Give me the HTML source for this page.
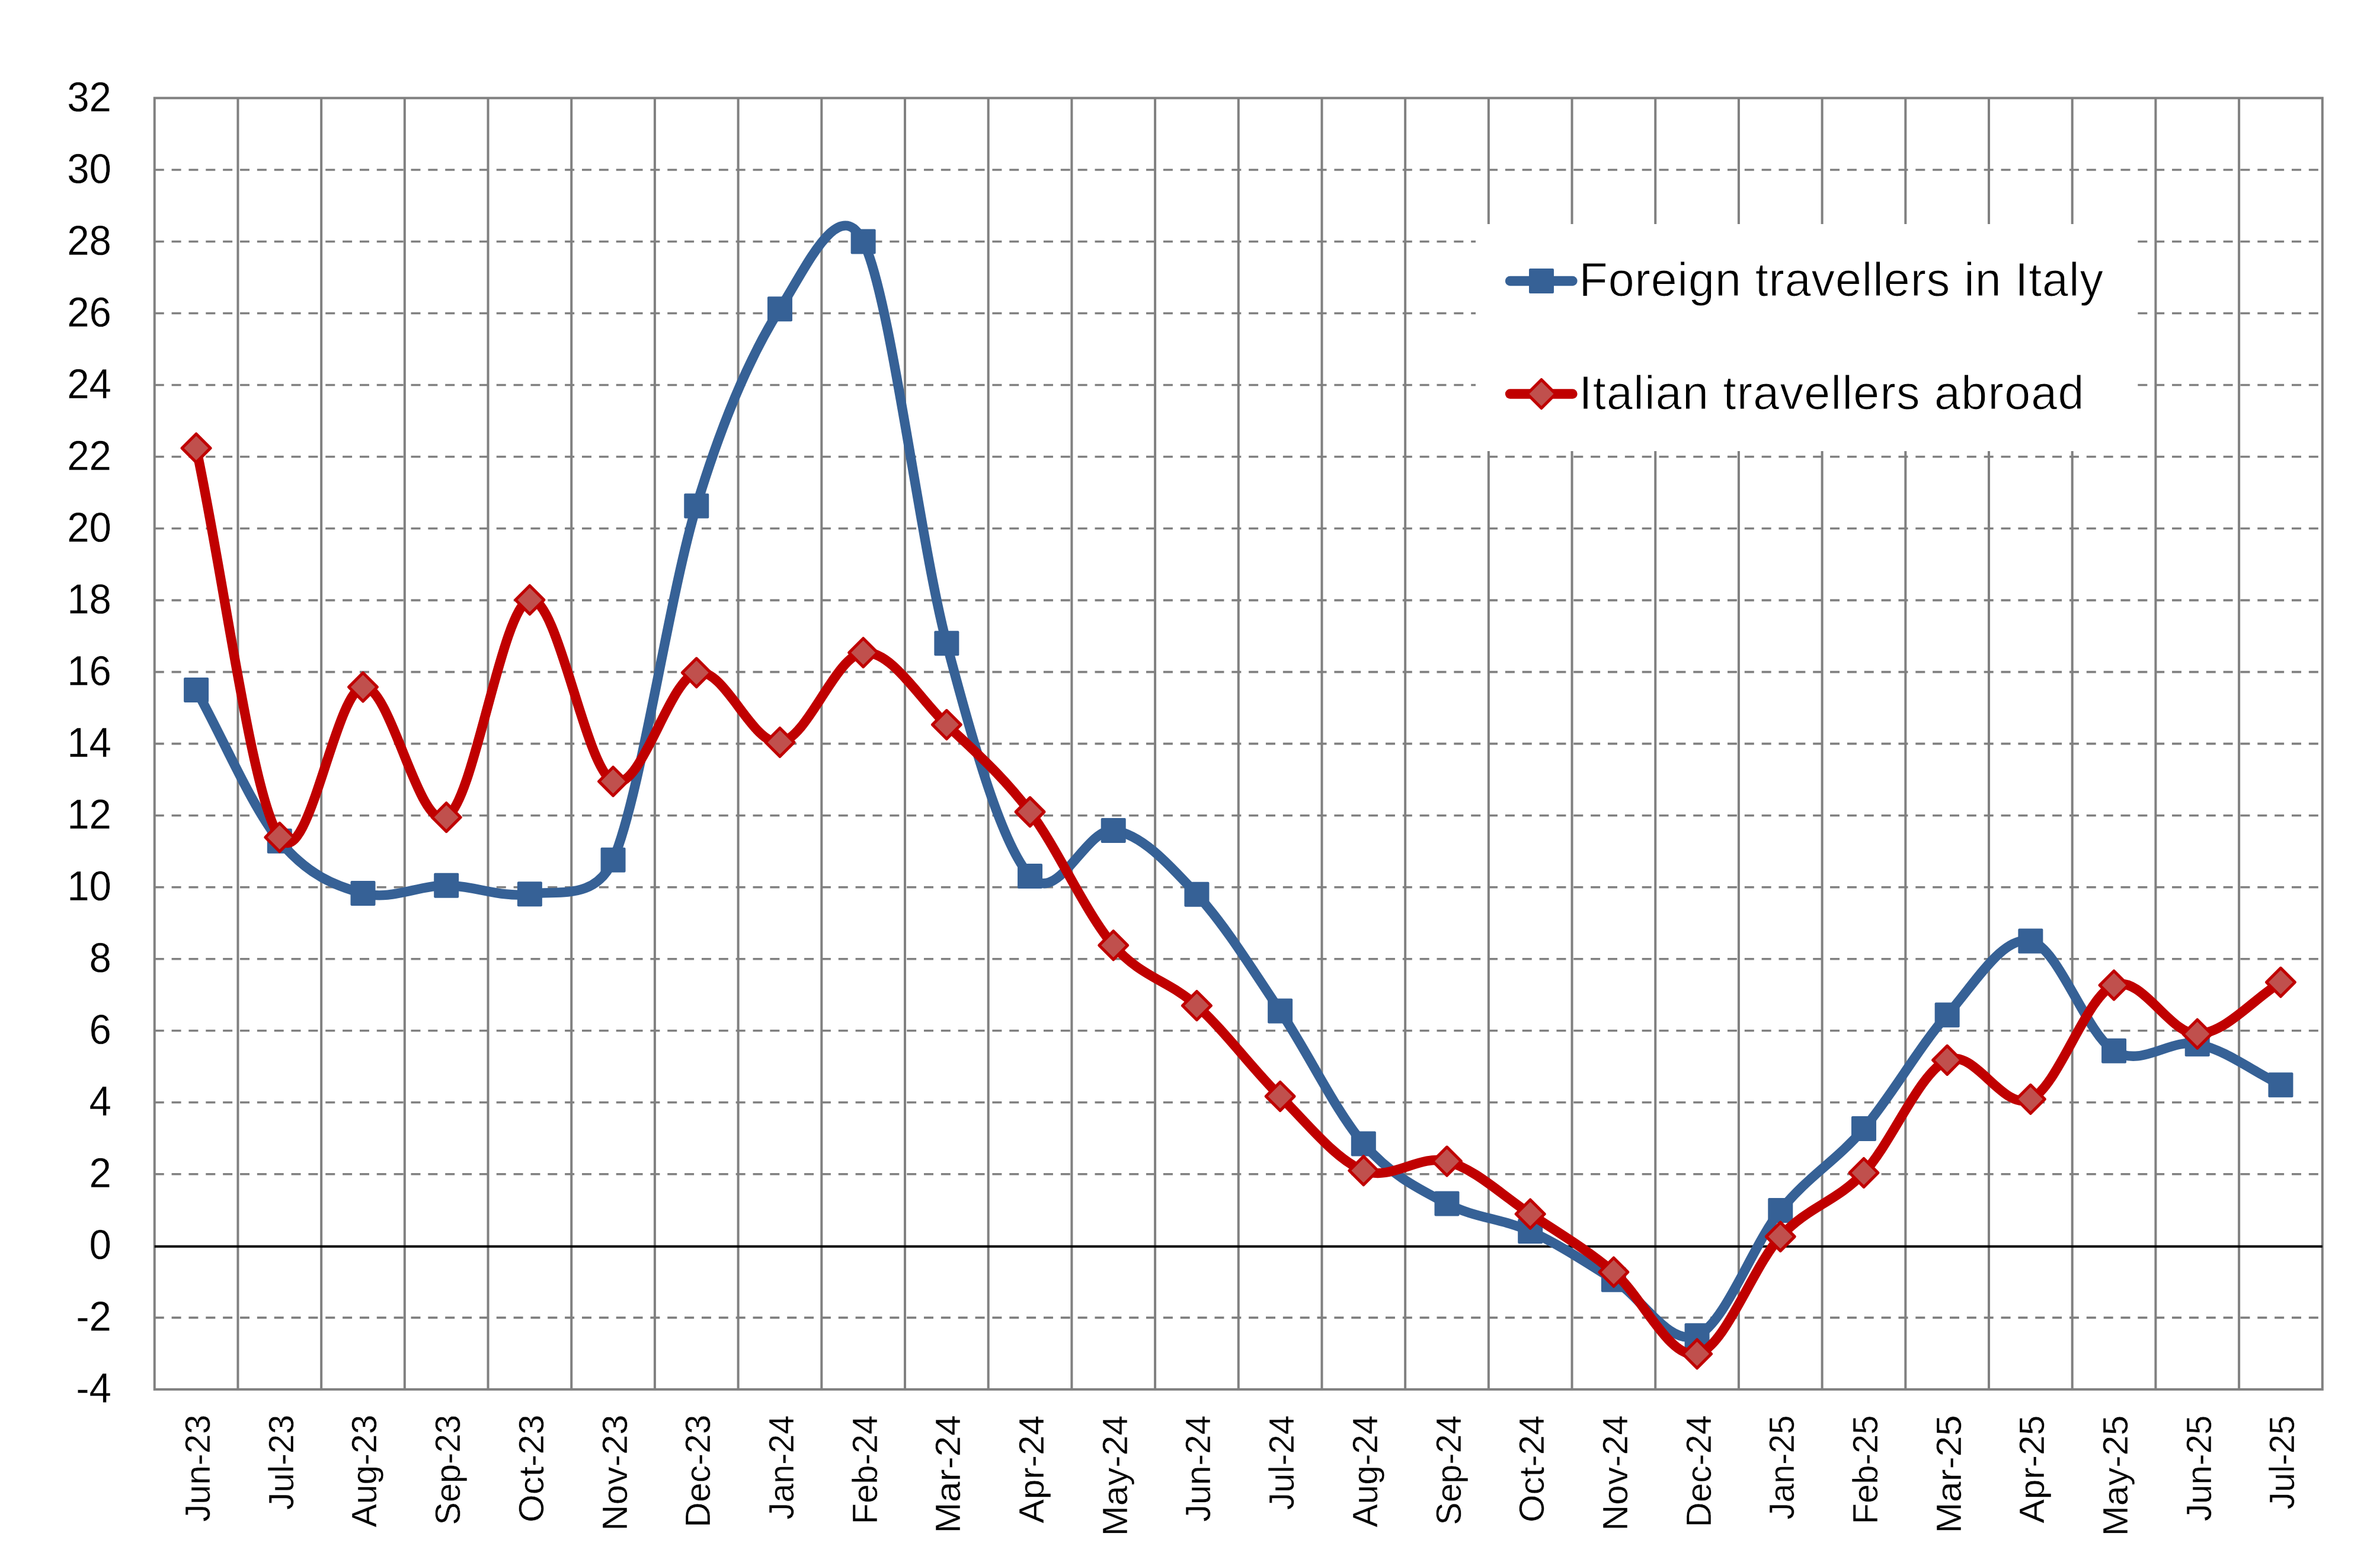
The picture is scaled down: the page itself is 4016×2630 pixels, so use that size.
<!DOCTYPE html>
<html><head><meta charset="utf-8"><style>
html,body{margin:0;padding:0;background:#fff;}
svg{display:block;}
text{font-family:"Liberation Sans",sans-serif;fill:#000;}
</style></head><body>
<svg width="4016" height="2630" viewBox="0 0 4016 2630">
<rect x="0" y="0" width="4016" height="2630" fill="#fff"/>

<line x1="260.75" y1="2222.87" x2="3918.80" y2="2222.87" stroke="#808080" stroke-width="3.6" stroke-dasharray="16 12.85"/>
<line x1="260.75" y1="1980.82" x2="3918.80" y2="1980.82" stroke="#808080" stroke-width="3.6" stroke-dasharray="16 12.85"/>
<line x1="260.75" y1="1859.79" x2="3918.80" y2="1859.79" stroke="#808080" stroke-width="3.6" stroke-dasharray="16 12.85"/>
<line x1="260.75" y1="1738.76" x2="3918.80" y2="1738.76" stroke="#808080" stroke-width="3.6" stroke-dasharray="16 12.85"/>
<line x1="260.75" y1="1617.73" x2="3918.80" y2="1617.73" stroke="#808080" stroke-width="3.6" stroke-dasharray="16 12.85"/>
<line x1="260.75" y1="1496.71" x2="3918.80" y2="1496.71" stroke="#808080" stroke-width="3.6" stroke-dasharray="16 12.85"/>
<line x1="260.75" y1="1375.68" x2="3918.80" y2="1375.68" stroke="#808080" stroke-width="3.6" stroke-dasharray="16 12.85"/>
<line x1="260.75" y1="1254.65" x2="3918.80" y2="1254.65" stroke="#808080" stroke-width="3.6" stroke-dasharray="16 12.85"/>
<line x1="260.75" y1="1133.62" x2="3918.80" y2="1133.62" stroke="#808080" stroke-width="3.6" stroke-dasharray="16 12.85"/>
<line x1="260.75" y1="1012.59" x2="3918.80" y2="1012.59" stroke="#808080" stroke-width="3.6" stroke-dasharray="16 12.85"/>
<line x1="260.75" y1="891.57" x2="3918.80" y2="891.57" stroke="#808080" stroke-width="3.6" stroke-dasharray="16 12.85"/>
<line x1="260.75" y1="770.54" x2="3918.80" y2="770.54" stroke="#808080" stroke-width="3.6" stroke-dasharray="16 12.85"/>
<line x1="260.75" y1="649.51" x2="3918.80" y2="649.51" stroke="#808080" stroke-width="3.6" stroke-dasharray="16 12.85"/>
<line x1="260.75" y1="528.48" x2="3918.80" y2="528.48" stroke="#808080" stroke-width="3.6" stroke-dasharray="16 12.85"/>
<line x1="260.75" y1="407.46" x2="3918.80" y2="407.46" stroke="#808080" stroke-width="3.6" stroke-dasharray="16 12.85"/>
<line x1="260.75" y1="286.43" x2="3918.80" y2="286.43" stroke="#808080" stroke-width="3.6" stroke-dasharray="16 12.85"/>
<line x1="401.44" y1="165.40" x2="401.44" y2="2343.90" stroke="#808080" stroke-width="4"/>
<line x1="542.14" y1="165.40" x2="542.14" y2="2343.90" stroke="#808080" stroke-width="4"/>
<line x1="682.83" y1="165.40" x2="682.83" y2="2343.90" stroke="#808080" stroke-width="4"/>
<line x1="823.53" y1="165.40" x2="823.53" y2="2343.90" stroke="#808080" stroke-width="4"/>
<line x1="964.22" y1="165.40" x2="964.22" y2="2343.90" stroke="#808080" stroke-width="4"/>
<line x1="1104.92" y1="165.40" x2="1104.92" y2="2343.90" stroke="#808080" stroke-width="4"/>
<line x1="1245.61" y1="165.40" x2="1245.61" y2="2343.90" stroke="#808080" stroke-width="4"/>
<line x1="1386.30" y1="165.40" x2="1386.30" y2="2343.90" stroke="#808080" stroke-width="4"/>
<line x1="1527.00" y1="165.40" x2="1527.00" y2="2343.90" stroke="#808080" stroke-width="4"/>
<line x1="1667.69" y1="165.40" x2="1667.69" y2="2343.90" stroke="#808080" stroke-width="4"/>
<line x1="1808.39" y1="165.40" x2="1808.39" y2="2343.90" stroke="#808080" stroke-width="4"/>
<line x1="1949.08" y1="165.40" x2="1949.08" y2="2343.90" stroke="#808080" stroke-width="4"/>
<line x1="2089.78" y1="165.40" x2="2089.78" y2="2343.90" stroke="#808080" stroke-width="4"/>
<line x1="2230.47" y1="165.40" x2="2230.47" y2="2343.90" stroke="#808080" stroke-width="4"/>
<line x1="2371.16" y1="165.40" x2="2371.16" y2="2343.90" stroke="#808080" stroke-width="4"/>
<line x1="2511.86" y1="165.40" x2="2511.86" y2="2343.90" stroke="#808080" stroke-width="4"/>
<line x1="2652.55" y1="165.40" x2="2652.55" y2="2343.90" stroke="#808080" stroke-width="4"/>
<line x1="2793.25" y1="165.40" x2="2793.25" y2="2343.90" stroke="#808080" stroke-width="4"/>
<line x1="2933.94" y1="165.40" x2="2933.94" y2="2343.90" stroke="#808080" stroke-width="4"/>
<line x1="3074.63" y1="165.40" x2="3074.63" y2="2343.90" stroke="#808080" stroke-width="4"/>
<line x1="3215.33" y1="165.40" x2="3215.33" y2="2343.90" stroke="#808080" stroke-width="4"/>
<line x1="3356.02" y1="165.40" x2="3356.02" y2="2343.90" stroke="#808080" stroke-width="4"/>
<line x1="3496.72" y1="165.40" x2="3496.72" y2="2343.90" stroke="#808080" stroke-width="4"/>
<line x1="3637.41" y1="165.40" x2="3637.41" y2="2343.90" stroke="#808080" stroke-width="4"/>
<line x1="3778.11" y1="165.40" x2="3778.11" y2="2343.90" stroke="#808080" stroke-width="4"/>
<rect x="260.75" y="165.40" width="3658.05" height="2178.50" fill="none" stroke="#808080" stroke-width="4"/>
<line x1="260.75" y1="2102.64" x2="3918.80" y2="2102.64" stroke="#000" stroke-width="4"/>
<rect x="2490" y="378" width="1114" height="383" fill="#fff"/>
<path d="M331.10,1163.88 C378.00,1248.80 424.89,1361.46 471.79,1418.64 C518.69,1475.83 565.59,1494.49 612.49,1506.99 C659.38,1519.50 706.28,1493.48 753.18,1493.68 C800.08,1493.88 846.98,1515.36 893.87,1508.20 C940.77,1501.04 1004.56,1520.53 1034.57,1450.72 C1081.47,1341.59 1128.36,1008.36 1175.26,853.44 C1222.16,698.53 1269.06,595.55 1315.96,521.22 C1362.85,446.89 1416.26,326.50 1456.65,407.46 C1503.55,501.45 1550.45,906.80 1597.35,1085.21 C1644.24,1263.63 1691.14,1425.30 1738.04,1477.95 C1784.94,1530.59 1831.84,1395.95 1878.73,1401.09 C1925.63,1406.24 1972.53,1458.08 2019.43,1508.81 C2066.33,1559.54 2113.22,1635.38 2160.12,1705.48 C2207.02,1775.57 2253.92,1875.22 2300.82,1929.38 C2347.71,1983.54 2394.61,2005.83 2441.51,2030.44 C2488.41,2055.05 2535.31,2055.65 2582.20,2077.03 C2629.10,2098.42 2676.00,2129.38 2722.90,2158.73 C2769.80,2188.08 2816.70,2272.59 2863.59,2253.13 C2910.49,2233.66 2957.39,2100.13 3004.29,2041.94 C3051.19,1983.74 3098.08,1958.93 3144.98,1903.96 C3191.88,1849.00 3238.78,1764.88 3285.68,1712.13 C3332.57,1659.39 3379.47,1577.39 3426.37,1587.48 C3473.27,1597.56 3520.17,1743.70 3567.06,1772.65 C3613.96,1801.59 3660.86,1751.57 3707.76,1761.15 C3754.66,1770.73 3801.55,1807.14 3848.45,1830.14" fill="none" stroke="#366196" stroke-width="16.3" stroke-linecap="round" stroke-linejoin="round"/>
<rect x="310.10" y="1142.88" width="42" height="42" rx="2" fill="#366196"/>
<rect x="450.79" y="1397.64" width="42" height="42" rx="2" fill="#366196"/>
<rect x="591.49" y="1485.99" width="42" height="42" rx="2" fill="#366196"/>
<rect x="732.18" y="1472.68" width="42" height="42" rx="2" fill="#366196"/>
<rect x="872.87" y="1487.20" width="42" height="42" rx="2" fill="#366196"/>
<rect x="1013.57" y="1429.72" width="42" height="42" rx="2" fill="#366196"/>
<rect x="1154.26" y="832.44" width="42" height="42" rx="2" fill="#366196"/>
<rect x="1294.96" y="500.22" width="42" height="42" rx="2" fill="#366196"/>
<rect x="1435.65" y="386.46" width="42" height="42" rx="2" fill="#366196"/>
<rect x="1576.35" y="1064.21" width="42" height="42" rx="2" fill="#366196"/>
<rect x="1717.04" y="1456.95" width="42" height="42" rx="2" fill="#366196"/>
<rect x="1857.73" y="1380.09" width="42" height="42" rx="2" fill="#366196"/>
<rect x="1998.43" y="1487.81" width="42" height="42" rx="2" fill="#366196"/>
<rect x="2139.12" y="1684.48" width="42" height="42" rx="2" fill="#366196"/>
<rect x="2279.82" y="1908.38" width="42" height="42" rx="2" fill="#366196"/>
<rect x="2420.51" y="2009.44" width="42" height="42" rx="2" fill="#366196"/>
<rect x="2561.20" y="2056.03" width="42" height="42" rx="2" fill="#366196"/>
<rect x="2701.90" y="2137.73" width="42" height="42" rx="2" fill="#366196"/>
<rect x="2842.59" y="2232.13" width="42" height="42" rx="2" fill="#366196"/>
<rect x="2983.29" y="2020.94" width="42" height="42" rx="2" fill="#366196"/>
<rect x="3123.98" y="1882.96" width="42" height="42" rx="2" fill="#366196"/>
<rect x="3264.68" y="1691.13" width="42" height="42" rx="2" fill="#366196"/>
<rect x="3405.37" y="1566.48" width="42" height="42" rx="2" fill="#366196"/>
<rect x="3546.06" y="1751.65" width="42" height="42" rx="2" fill="#366196"/>
<rect x="3686.76" y="1740.15" width="42" height="42" rx="2" fill="#366196"/>
<rect x="3827.45" y="1809.14" width="42" height="42" rx="2" fill="#366196"/>
<path d="M331.10,756.02 C378.00,974.87 424.89,1345.42 471.79,1412.59 C518.69,1479.76 565.59,1164.69 612.49,1159.04 C659.38,1153.39 706.28,1403.21 753.18,1378.70 C800.08,1354.20 846.98,1022.07 893.87,1011.99 C940.77,1001.90 987.67,1297.72 1034.57,1318.19 C1081.47,1338.66 1128.36,1145.83 1175.26,1134.83 C1222.16,1123.84 1269.06,1257.88 1315.96,1252.23 C1362.85,1246.58 1409.75,1105.89 1456.65,1100.94 C1503.55,1096.00 1550.45,1177.80 1597.35,1222.58 C1644.24,1267.36 1691.14,1307.60 1738.04,1369.63 C1784.94,1431.65 1831.84,1540.28 1878.73,1594.74 C1925.63,1649.20 1972.53,1653.94 2019.43,1696.40 C2066.33,1738.86 2113.22,1803.11 2160.12,1849.50 C2207.02,1895.90 2253.92,1956.51 2300.82,1974.77 C2347.71,1993.02 2394.61,1946.83 2441.51,1959.03 C2488.41,1971.24 2535.31,2016.82 2582.20,2047.99 C2629.10,2079.15 2676.00,2106.69 2722.90,2146.02 C2769.80,2185.35 2816.70,2293.98 2863.59,2283.99 C2910.49,2274.01 2957.39,2137.04 3004.29,2086.11 C3051.19,2035.18 3098.08,2028.02 3144.98,1978.40 C3191.88,1928.77 3238.78,1809.06 3285.68,1788.38 C3332.57,1767.71 3379.47,1875.42 3426.37,1854.34 C3473.27,1833.26 3520.17,1680.26 3567.06,1661.91 C3613.96,1643.55 3660.86,1745.01 3707.76,1744.21 C3754.66,1743.40 3801.55,1686.11 3848.45,1657.07" fill="none" stroke="#C00000" stroke-width="16.3" stroke-linecap="round" stroke-linejoin="round"/>
<path d="M331.10,732.02 L355.10,756.02 L331.10,780.02 L307.10,756.02 Z" fill="#C0504D" stroke="#C00000" stroke-width="5" stroke-linejoin="round"/>
<path d="M471.79,1388.59 L495.79,1412.59 L471.79,1436.59 L447.79,1412.59 Z" fill="#C0504D" stroke="#C00000" stroke-width="5" stroke-linejoin="round"/>
<path d="M612.49,1135.04 L636.49,1159.04 L612.49,1183.04 L588.49,1159.04 Z" fill="#C0504D" stroke="#C00000" stroke-width="5" stroke-linejoin="round"/>
<path d="M753.18,1354.70 L777.18,1378.70 L753.18,1402.70 L729.18,1378.70 Z" fill="#C0504D" stroke="#C00000" stroke-width="5" stroke-linejoin="round"/>
<path d="M893.87,987.99 L917.87,1011.99 L893.87,1035.99 L869.87,1011.99 Z" fill="#C0504D" stroke="#C00000" stroke-width="5" stroke-linejoin="round"/>
<path d="M1034.57,1294.19 L1058.57,1318.19 L1034.57,1342.19 L1010.57,1318.19 Z" fill="#C0504D" stroke="#C00000" stroke-width="5" stroke-linejoin="round"/>
<path d="M1175.26,1110.83 L1199.26,1134.83 L1175.26,1158.83 L1151.26,1134.83 Z" fill="#C0504D" stroke="#C00000" stroke-width="5" stroke-linejoin="round"/>
<path d="M1315.96,1228.23 L1339.96,1252.23 L1315.96,1276.23 L1291.96,1252.23 Z" fill="#C0504D" stroke="#C00000" stroke-width="5" stroke-linejoin="round"/>
<path d="M1456.65,1076.94 L1480.65,1100.94 L1456.65,1124.94 L1432.65,1100.94 Z" fill="#C0504D" stroke="#C00000" stroke-width="5" stroke-linejoin="round"/>
<path d="M1597.35,1198.58 L1621.35,1222.58 L1597.35,1246.58 L1573.35,1222.58 Z" fill="#C0504D" stroke="#C00000" stroke-width="5" stroke-linejoin="round"/>
<path d="M1738.04,1345.63 L1762.04,1369.63 L1738.04,1393.63 L1714.04,1369.63 Z" fill="#C0504D" stroke="#C00000" stroke-width="5" stroke-linejoin="round"/>
<path d="M1878.73,1570.74 L1902.73,1594.74 L1878.73,1618.74 L1854.73,1594.74 Z" fill="#C0504D" stroke="#C00000" stroke-width="5" stroke-linejoin="round"/>
<path d="M2019.43,1672.40 L2043.43,1696.40 L2019.43,1720.40 L1995.43,1696.40 Z" fill="#C0504D" stroke="#C00000" stroke-width="5" stroke-linejoin="round"/>
<path d="M2160.12,1825.50 L2184.12,1849.50 L2160.12,1873.50 L2136.12,1849.50 Z" fill="#C0504D" stroke="#C00000" stroke-width="5" stroke-linejoin="round"/>
<path d="M2300.82,1950.77 L2324.82,1974.77 L2300.82,1998.77 L2276.82,1974.77 Z" fill="#C0504D" stroke="#C00000" stroke-width="5" stroke-linejoin="round"/>
<path d="M2441.51,1935.03 L2465.51,1959.03 L2441.51,1983.03 L2417.51,1959.03 Z" fill="#C0504D" stroke="#C00000" stroke-width="5" stroke-linejoin="round"/>
<path d="M2582.20,2023.99 L2606.20,2047.99 L2582.20,2071.99 L2558.20,2047.99 Z" fill="#C0504D" stroke="#C00000" stroke-width="5" stroke-linejoin="round"/>
<path d="M2722.90,2122.02 L2746.90,2146.02 L2722.90,2170.02 L2698.90,2146.02 Z" fill="#C0504D" stroke="#C00000" stroke-width="5" stroke-linejoin="round"/>
<path d="M2863.59,2259.99 L2887.59,2283.99 L2863.59,2307.99 L2839.59,2283.99 Z" fill="#C0504D" stroke="#C00000" stroke-width="5" stroke-linejoin="round"/>
<path d="M3004.29,2062.11 L3028.29,2086.11 L3004.29,2110.11 L2980.29,2086.11 Z" fill="#C0504D" stroke="#C00000" stroke-width="5" stroke-linejoin="round"/>
<path d="M3144.98,1954.40 L3168.98,1978.40 L3144.98,2002.40 L3120.98,1978.40 Z" fill="#C0504D" stroke="#C00000" stroke-width="5" stroke-linejoin="round"/>
<path d="M3285.68,1764.38 L3309.68,1788.38 L3285.68,1812.38 L3261.68,1788.38 Z" fill="#C0504D" stroke="#C00000" stroke-width="5" stroke-linejoin="round"/>
<path d="M3426.37,1830.34 L3450.37,1854.34 L3426.37,1878.34 L3402.37,1854.34 Z" fill="#C0504D" stroke="#C00000" stroke-width="5" stroke-linejoin="round"/>
<path d="M3567.06,1637.91 L3591.06,1661.91 L3567.06,1685.91 L3543.06,1661.91 Z" fill="#C0504D" stroke="#C00000" stroke-width="5" stroke-linejoin="round"/>
<path d="M3707.76,1720.21 L3731.76,1744.21 L3707.76,1768.21 L3683.76,1744.21 Z" fill="#C0504D" stroke="#C00000" stroke-width="5" stroke-linejoin="round"/>
<path d="M3848.45,1633.07 L3872.45,1657.07 L3848.45,1681.07 L3824.45,1657.07 Z" fill="#C0504D" stroke="#C00000" stroke-width="5" stroke-linejoin="round"/>
<line x1="2548" y1="474" x2="2653.5" y2="474" stroke="#366196" stroke-width="16.3" stroke-linecap="round"/>
<rect x="2580" y="453" width="42" height="42" rx="2" fill="#366196"/>
<text x="2664.5" y="499.2" font-size="79" textLength="884.4" lengthAdjust="spacing" stroke="#fff" stroke-width="1.0">Foreign travellers in Italy</text>
<line x1="2548" y1="664.5" x2="2653.5" y2="664.5" stroke="#C00000" stroke-width="16.3" stroke-linecap="round"/>
<path d="M2601,640.5 L2625,664.5 L2601,688.5 L2577,664.5 Z" fill="#C0504D" stroke="#C00000" stroke-width="5" stroke-linejoin="round"/>
<text x="2664.5" y="689.7" font-size="79" textLength="852.0" lengthAdjust="spacing" stroke="#fff" stroke-width="1.0">Italian travellers abroad</text>
<text x="0" y="0" font-size="69.6" text-anchor="end" stroke="#fff" stroke-width="0.3" transform="translate(188,2366.40) scale(0.967,1)">-4</text>
<text x="0" y="0" font-size="69.6" text-anchor="end" stroke="#fff" stroke-width="0.3" transform="translate(188,2245.37) scale(0.967,1)">-2</text>
<text x="0" y="0" font-size="69.6" text-anchor="end" stroke="#fff" stroke-width="0.3" transform="translate(188,2124.34) scale(0.967,1)">0</text>
<text x="0" y="0" font-size="69.6" text-anchor="end" stroke="#fff" stroke-width="0.3" transform="translate(188,2003.32) scale(0.967,1)">2</text>
<text x="0" y="0" font-size="69.6" text-anchor="end" stroke="#fff" stroke-width="0.3" transform="translate(188,1882.29) scale(0.967,1)">4</text>
<text x="0" y="0" font-size="69.6" text-anchor="end" stroke="#fff" stroke-width="0.3" transform="translate(188,1761.26) scale(0.967,1)">6</text>
<text x="0" y="0" font-size="69.6" text-anchor="end" stroke="#fff" stroke-width="0.3" transform="translate(188,1640.23) scale(0.967,1)">8</text>
<text x="0" y="0" font-size="69.6" text-anchor="end" stroke="#fff" stroke-width="0.3" transform="translate(188,1519.21) scale(0.967,1)">10</text>
<text x="0" y="0" font-size="69.6" text-anchor="end" stroke="#fff" stroke-width="0.3" transform="translate(188,1398.18) scale(0.967,1)">12</text>
<text x="0" y="0" font-size="69.6" text-anchor="end" stroke="#fff" stroke-width="0.3" transform="translate(188,1277.15) scale(0.967,1)">14</text>
<text x="0" y="0" font-size="69.6" text-anchor="end" stroke="#fff" stroke-width="0.3" transform="translate(188,1156.12) scale(0.967,1)">16</text>
<text x="0" y="0" font-size="69.6" text-anchor="end" stroke="#fff" stroke-width="0.3" transform="translate(188,1035.09) scale(0.967,1)">18</text>
<text x="0" y="0" font-size="69.6" text-anchor="end" stroke="#fff" stroke-width="0.3" transform="translate(188,914.07) scale(0.967,1)">20</text>
<text x="0" y="0" font-size="69.6" text-anchor="end" stroke="#fff" stroke-width="0.3" transform="translate(188,793.04) scale(0.967,1)">22</text>
<text x="0" y="0" font-size="69.6" text-anchor="end" stroke="#fff" stroke-width="0.3" transform="translate(188,672.01) scale(0.967,1)">24</text>
<text x="0" y="0" font-size="69.6" text-anchor="end" stroke="#fff" stroke-width="0.3" transform="translate(188,550.98) scale(0.967,1)">26</text>
<text x="0" y="0" font-size="69.6" text-anchor="end" stroke="#fff" stroke-width="0.3" transform="translate(188,429.96) scale(0.967,1)">28</text>
<text x="0" y="0" font-size="69.6" text-anchor="end" stroke="#fff" stroke-width="0.3" transform="translate(188,308.93) scale(0.967,1)">30</text>
<text x="0" y="0" font-size="69.6" text-anchor="end" stroke="#fff" stroke-width="0.3" transform="translate(188,187.90) scale(0.967,1)">32</text>
<text x="0" y="0" font-size="59.5" text-anchor="end" stroke="#fff" stroke-width="0.4" transform="translate(354.10,2386.45) rotate(-90) scale(0.9942,1)">Jun-23</text>
<text x="0" y="0" font-size="59.5" text-anchor="end" stroke="#fff" stroke-width="0.4" transform="translate(494.79,2386.45) rotate(-90) scale(0.9928,1)">Jul-23</text>
<text x="0" y="0" font-size="59.5" text-anchor="end" stroke="#fff" stroke-width="0.4" transform="translate(635.49,2386.46) rotate(-90) scale(0.9907,1)">Aug-23</text>
<text x="0" y="0" font-size="59.5" text-anchor="end" stroke="#fff" stroke-width="0.4" transform="translate(776.18,2386.53) rotate(-90) scale(0.9702,1)">Sep-23</text>
<text x="0" y="0" font-size="59.5" text-anchor="end" stroke="#fff" stroke-width="0.4" transform="translate(916.87,2386.36) rotate(-90) scale(1.0193,1)">Oct-23</text>
<text x="0" y="0" font-size="59.5" text-anchor="end" stroke="#fff" stroke-width="0.4" transform="translate(1057.57,2386.35) rotate(-90) scale(1.0224,1)">Nov-23</text>
<text x="0" y="0" font-size="59.5" text-anchor="end" stroke="#fff" stroke-width="0.4" transform="translate(1198.26,2386.46) rotate(-90) scale(0.9916,1)">Dec-23</text>
<text x="0" y="0" font-size="59.5" text-anchor="end" stroke="#fff" stroke-width="0.4" transform="translate(1338.96,2387.53) rotate(-90) scale(0.9670,1)">Jan-24</text>
<text x="0" y="0" font-size="59.5" text-anchor="end" stroke="#fff" stroke-width="0.4" transform="translate(1479.65,2387.51) rotate(-90) scale(0.9755,1)">Feb-24</text>
<text x="0" y="0" font-size="59.5" text-anchor="end" stroke="#fff" stroke-width="0.4" transform="translate(1620.35,2387.30) rotate(-90) scale(1.0591,1)">Mar-24</text>
<text x="0" y="0" font-size="59.5" text-anchor="end" stroke="#fff" stroke-width="0.4" transform="translate(1761.04,2387.39) rotate(-90) scale(1.0213,1)">Apr-24</text>
<text x="0" y="0" font-size="59.5" text-anchor="end" stroke="#fff" stroke-width="0.4" transform="translate(1901.73,2387.38) rotate(-90) scale(1.0274,1)">May-24</text>
<text x="0" y="0" font-size="59.5" text-anchor="end" stroke="#fff" stroke-width="0.4" transform="translate(2042.43,2387.48) rotate(-90) scale(0.9885,1)">Jun-24</text>
<text x="0" y="0" font-size="59.5" text-anchor="end" stroke="#fff" stroke-width="0.4" transform="translate(2183.12,2387.48) rotate(-90) scale(0.9864,1)">Jul-24</text>
<text x="0" y="0" font-size="59.5" text-anchor="end" stroke="#fff" stroke-width="0.4" transform="translate(2323.82,2387.49) rotate(-90) scale(0.9853,1)">Aug-24</text>
<text x="0" y="0" font-size="59.5" text-anchor="end" stroke="#fff" stroke-width="0.4" transform="translate(2464.51,2387.54) rotate(-90) scale(0.9648,1)">Sep-24</text>
<text x="0" y="0" font-size="59.5" text-anchor="end" stroke="#fff" stroke-width="0.4" transform="translate(2605.20,2387.42) rotate(-90) scale(1.0132,1)">Oct-24</text>
<text x="0" y="0" font-size="59.5" text-anchor="end" stroke="#fff" stroke-width="0.4" transform="translate(2745.90,2387.41) rotate(-90) scale(1.0167,1)">Nov-24</text>
<text x="0" y="0" font-size="59.5" text-anchor="end" stroke="#fff" stroke-width="0.4" transform="translate(2886.59,2387.48) rotate(-90) scale(0.9860,1)">Dec-24</text>
<text x="0" y="0" font-size="59.5" text-anchor="end" stroke="#fff" stroke-width="0.4" transform="translate(3027.29,2387.53) rotate(-90) scale(0.9670,1)">Jan-25</text>
<text x="0" y="0" font-size="59.5" text-anchor="end" stroke="#fff" stroke-width="0.4" transform="translate(3167.98,2387.51) rotate(-90) scale(0.9755,1)">Feb-25</text>
<text x="0" y="0" font-size="59.5" text-anchor="end" stroke="#fff" stroke-width="0.4" transform="translate(3308.68,2387.30) rotate(-90) scale(1.0591,1)">Mar-25</text>
<text x="0" y="0" font-size="59.5" text-anchor="end" stroke="#fff" stroke-width="0.4" transform="translate(3449.37,2387.39) rotate(-90) scale(1.0213,1)">Apr-25</text>
<text x="0" y="0" font-size="59.5" text-anchor="end" stroke="#fff" stroke-width="0.4" transform="translate(3590.06,2387.38) rotate(-90) scale(1.0274,1)">May-25</text>
<text x="0" y="0" font-size="59.5" text-anchor="end" stroke="#fff" stroke-width="0.4" transform="translate(3730.76,2387.49) rotate(-90) scale(0.9823,1)">Jun-25</text>
<text x="0" y="0" font-size="59.5" text-anchor="end" stroke="#fff" stroke-width="0.4" transform="translate(3871.45,2387.50) rotate(-90) scale(0.9794,1)">Jul-25</text>
</svg></body></html>
